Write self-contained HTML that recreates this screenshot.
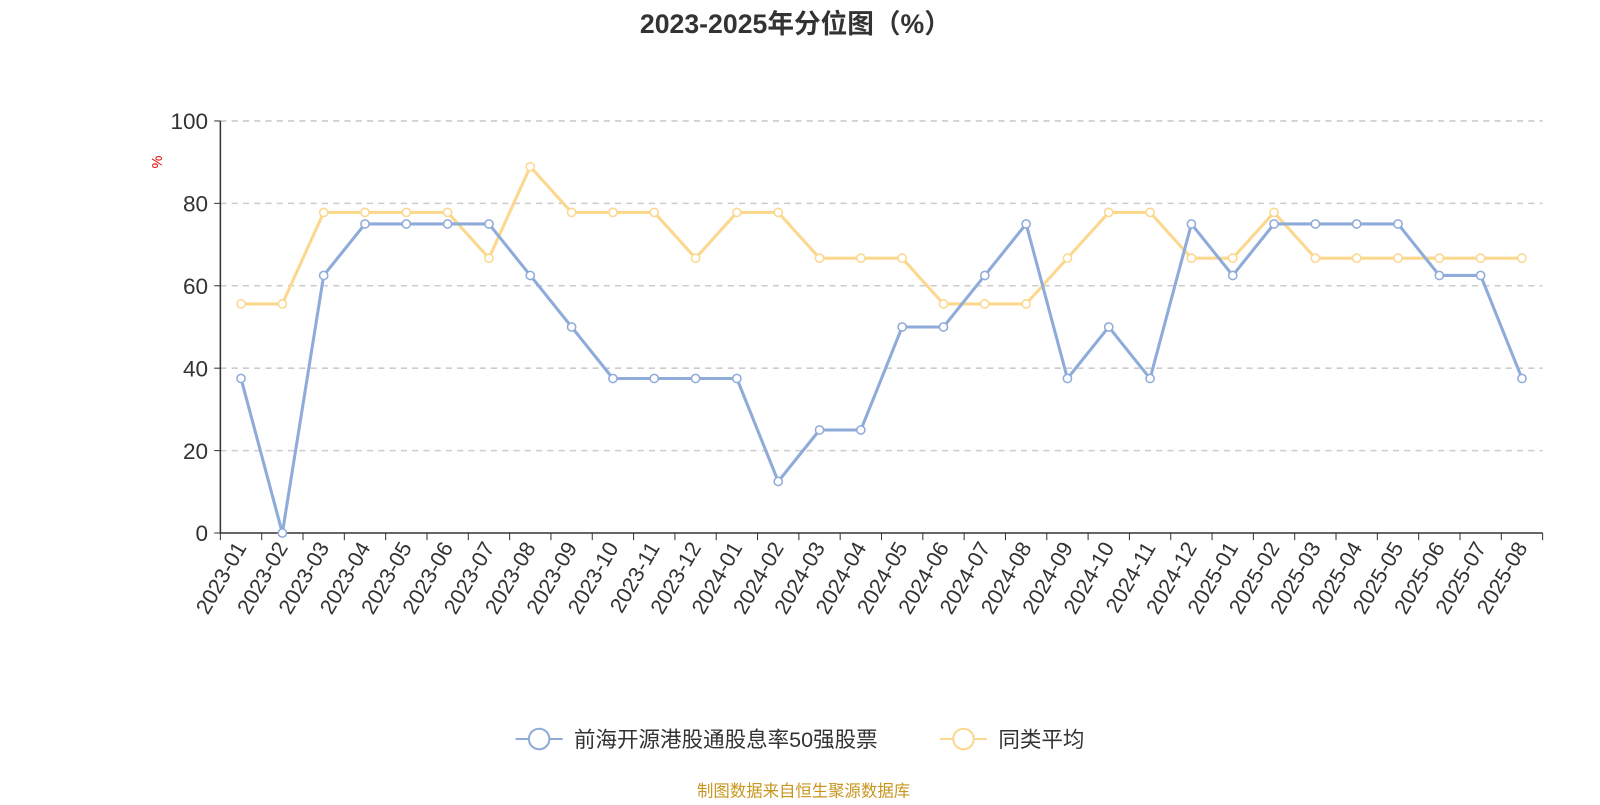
<!DOCTYPE html>
<html><head><meta charset="utf-8"><style>
body{margin:0;background:#fff;width:1600px;height:800px;overflow:hidden;font-family:"Liberation Sans","Noto Sans CJK SC",sans-serif}
</style></head><body>
<svg width="1600" height="800" xmlns="http://www.w3.org/2000/svg" font-family="Liberation Sans, Noto Sans CJK SC, sans-serif">
<g transform="scale(1.025)">
<text x="776" y="32" text-anchor="middle" font-size="26" font-weight="bold" fill="#333">2023-2025年分位图（%）</text>
<text x="158" y="158" font-size="14" fill="#e00" transform="rotate(-90 158 158)" text-anchor="middle">%</text>
<g id="grid"></g><g id="axes"></g><g id="series"></g>
<g>
<g>
<line x1="503" y1="721" x2="549" y2="721" stroke="#8eabd9" stroke-width="2"/><circle cx="526" cy="721" r="10" fill="#fff" stroke="#8eabd9" stroke-width="2"/>
<text x="560" y="729" font-size="21" fill="#333">前海开源港股通股息率50强股票</text></g>
<g>
<line x1="917" y1="721" x2="963" y2="721" stroke="#fcd88f" stroke-width="2"/><circle cx="940" cy="721" r="10" fill="#fff" stroke="#fcd88f" stroke-width="2"/>
<text x="974" y="729" font-size="21" fill="#333">同类平均</text></g>
</g>
<text x="784" y="777" text-anchor="middle" font-size="16" fill="#c8961e">制图数据来自恒生聚源数据库</text>
</g>
</svg>
<script>
const categories=["2023-01","2023-02","2023-03","2023-04","2023-05","2023-06","2023-07","2023-08","2023-09","2023-10","2023-11","2023-12","2024-01","2024-02","2024-03","2024-04","2024-05","2024-06","2024-07","2024-08","2024-09","2024-10","2024-11","2024-12","2025-01","2025-02","2025-03","2025-04","2025-05","2025-06","2025-07","2025-08"];
const fundValues=[37.5,0,62.5,75,75,75,75,62.5,50,37.5,37.5,37.5,37.5,12.5,25,25,50,50,62.5,75,37.5,50,37.5,75,62.5,75,75,75,75,62.5,62.5,37.5];
const avgValues=[55.6,55.6,77.8,77.8,77.8,77.8,66.7,88.9,77.8,77.8,77.8,66.7,77.8,77.8,66.7,66.7,66.7,55.6,55.6,55.6,66.7,77.8,77.8,66.7,66.7,77.8,66.7,66.7,66.7,66.7,66.7,66.7];
const yTicks=[0,20,40,60,80,100];
const NS="http://www.w3.org/2000/svg";
const L=215,R=1505,T=118,B=520;
const bw=(R-L)/categories.length;
const xs=i=>L+bw*(i+0.5);
const ys=v=>B-(v/100)*(B-T);
function mk(tag,attrs,parent){const e=document.createElementNS(NS,tag);for(const k in attrs)e.setAttribute(k,attrs[k]);parent.appendChild(e);return e;}
const grid=document.getElementById('grid'),axes=document.getElementById('axes'),series=document.getElementById('series');
yTicks.forEach(t=>{
 if(t>0){const g=mk('line',{x1:L,x2:R,y1:ys(t),y2:ys(t),stroke:'#ccc','stroke-dasharray':'6,5','stroke-width':1.5},grid);
 
 }
 const tk=mk('line',{x1:L-6,x2:L,y1:ys(t),y2:ys(t),stroke:'#333'},axes);
 
 
 const tx=mk('text',{x:L-12,y:ys(t)+8,'text-anchor':'end','font-size':22,fill:'#333'},axes);tx.textContent=t;
 
 
});
const ya=mk('line',{x1:L,x2:L,y1:T,y2:B,stroke:'#333','stroke-width':1.5},axes);


const xa=mk('line',{x1:L,x2:R,y1:B,y2:B,stroke:'#333','stroke-width':1.5},axes);


for(let i=0;i<=categories.length;i++){const tk=mk('line',{x1:L+bw*i,x2:L+bw*i,y1:B,y2:B+7,stroke:'#333'},axes);
 
 }
categories.forEach((c,i)=>{const x=xs(i)+6,y=B+14;
 const t=mk('text',{x:x,y:y,'text-anchor':'end','font-size':21,fill:'#333',transform:`rotate(-60 ${x} ${y})`},axes);t.textContent=c;
 
 });
function drawSeries(vals,color,name){
 const p=mk('polyline',{points:vals.map((v,i)=>xs(i)+','+ys(v)).join(' '),fill:'none',stroke:color,'stroke-width':3,'stroke-linejoin':'round'},series);
 
 
 vals.forEach((v,i)=>{const c=mk('circle',{cx:xs(i),cy:ys(v),r:4,fill:'#fff',stroke:color,'stroke-width':1.5},series);
 
 });
}
drawSeries(avgValues,'#fcd88f','average');
drawSeries(fundValues,'#8eabd9','fund');
</script>
</body></html>
